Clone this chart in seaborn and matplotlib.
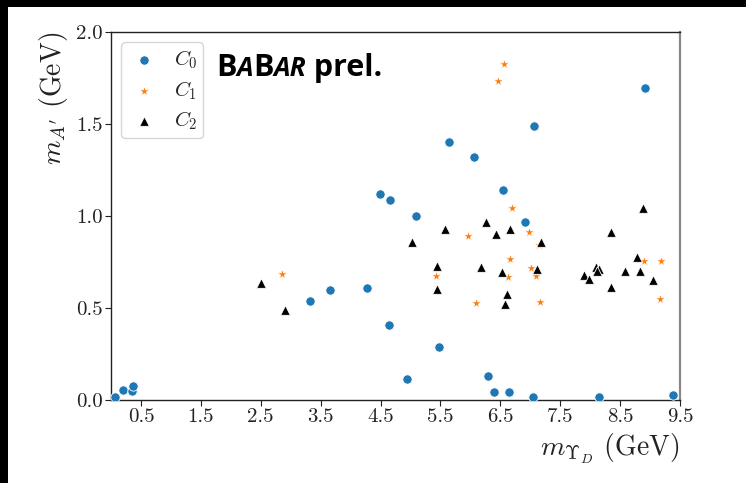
import numpy as np
import pandas as pd
import matplotlib
matplotlib.use("Agg")
import matplotlib.pyplot as plt
import seaborn as sns
from matplotlib.patches import Rectangle

# ---- data -------------------------------------------------------------
c0_x = [0.07, 0.20, 0.35, 0.37, 3.32, 3.66, 4.27, 4.49, 4.65, 4.64,
        8.91, 7.07, 5.65, 6.06, 6.55, 5.09, 6.91, 5.47, 4.95, 6.30,
        6.39, 6.64, 7.04, 8.15, 9.39]
c0_y = [0.015, 0.054, 0.047, 0.078, 0.54, 0.60, 0.61, 1.12, 1.087, 0.41,
        1.697, 1.49, 1.40, 1.32, 1.14, 1.00, 0.97, 0.286, 0.112, 0.132,
        0.043, 0.045, 0.015, 0.018, 0.029]

c1_x = [6.57, 6.46, 2.86, 6.69, 5.96, 6.98, 7.15, 6.66, 7.01, 5.43,
        6.63, 7.10, 6.09, 7.16, 8.90, 9.18, 9.16]
c1_y = [1.826, 1.734, 0.686, 1.045, 0.891, 0.911, 0.842, 0.766, 0.72, 0.676,
        0.67, 0.676, 0.527, 0.533, 0.755, 0.755, 0.547]

c2_x = [2.51, 2.90, 5.03, 5.58, 5.44, 5.45, 6.26, 6.43, 6.66, 6.18,
        6.53, 6.62, 6.58, 7.18, 7.11, 7.90, 7.98, 8.10, 8.15, 8.12,
        8.35, 8.35, 8.58, 8.78, 8.83, 8.88, 9.05]
c2_y = [0.638, 0.487, 0.857, 0.929, 0.727, 0.605, 0.966, 0.902, 0.931, 0.721,
        0.697, 0.578, 0.52, 0.86, 0.71, 0.679, 0.658, 0.721, 0.71, 0.70,
        0.913, 0.616, 0.701, 0.777, 0.703, 1.045, 0.65]

class_labels = ["$C_0$", "$C_1$", "$C_2$"]
x_ticks = [0.5, 1.5, 2.5, 3.5, 4.5, 5.5, 6.5, 7.5, 8.5, 9.5]
x_tick_labels = ["0.5", "1.5", "2.5", "3.5", "4.5", "5.5", "6.5", "7.5", "8.5", "9.5"]
y_ticks = [0.0, 0.5, 1.0, 1.5, 2.0]
y_tick_labels = ["0.0", "0.5", "1.0", "1.5", "2.0"]

df = pd.DataFrame({
    "x": c0_x + c1_x + c2_x,
    "y": c0_y + c1_y + c2_y,
    "cls": [class_labels[0]] * len(c0_x) + [class_labels[1]] * len(c1_x)
           + [class_labels[2]] * len(c2_x),
})

# ---- style ------------------------------------------------------------
sns.set_theme(style="ticks")
plt.rcParams["font.family"] = ["serif"]
plt.rcParams["font.serif"] = ["cmr10", "DejaVu Serif"]
plt.rcParams["mathtext.fontset"] = "cm"
plt.rcParams["axes.formatter.use_mathtext"] = True

fig = plt.figure(figsize=(7.46, 4.83), dpi=100)
fig.patch.set_facecolor("white")
ax = fig.add_axes([0.1488, 0.1718, 0.7627, 0.7619])

palette = {class_labels[0]: "#1f77b4", class_labels[1]: "#ff7f0e", class_labels[2]: "black"}
markers = {class_labels[0]: "o", class_labels[1]: "*", class_labels[2]: "^"}
sizes_map = {class_labels[0]: 45, class_labels[1]: 60, class_labels[2]: 48}

for lab in class_labels:
    sub = df[df["cls"] == lab]
    sns.scatterplot(data=sub, x="x", y="y", color=palette[lab], marker=markers[lab],
                    s=sizes_map[lab], edgecolor="white", linewidth=0.6,
                    label=lab, ax=ax, zorder=3)

ax.set_xlim(0, 9.5)
ax.set_ylim(0, 2.0)
ax.set_xticks(x_ticks)
ax.set_xticklabels(x_tick_labels)
ax.set_yticks(y_ticks)
ax.set_yticklabels(y_tick_labels)
ax.tick_params(axis="both", labelsize=15, length=4, width=0.8, direction="out",
               colors="#222222", labelcolor="#222222", pad=2)

ax.set_xlabel(r"$m_{\Upsilon_D}$ (GeV)", fontsize=20, loc="right", color="#222222")
ax.set_ylabel(r"$m_{A'}$ (GeV)", fontsize=20, loc="top", color="#222222")

for side in ["left", "bottom", "top"]:
    ax.spines[side].set_color("#222222")
    ax.spines[side].set_linewidth(1.0)
ax.spines["right"].set_color("#888888")
ax.spines["right"].set_linewidth(1.6)

leg = ax.legend(loc="upper left", fontsize=15, frameon=True, fancybox=True,
                framealpha=0.8, edgecolor="#cccccc", handletextpad=0.6,
                borderpad=0.3, labelspacing=0.38, handlelength=1.6,
                bbox_to_anchor=(0.0, 1.0), borderaxespad=0.5)

# ---- experiment tag, built piece by piece -----------------------------
tag_parts = [("B", 22, "normal"), ("A", 19, "italic"), ("B", 22, "normal"),
             ("AR", 19, "italic"), (" prel.", 22, "normal")]
fig.canvas.draw()
renderer = fig.canvas.get_renderer()
x_disp, y_disp = 216.0, fig.bbox.height - 76
for txt, size, style in tag_parts:
    t = fig.text(x_disp / fig.bbox.width, y_disp / fig.bbox.height, txt,
                 fontsize=size, fontweight="bold", fontstyle=style,
                 family=["Open Sans", "DejaVu Sans"], color="black",
                 va="baseline", ha="left")
    bb = t.get_window_extent(renderer)
    x_disp = bb.x1

# dark frame strips along the top and left edges
fig.patches.append(Rectangle((0, 1 - 7 / 483), 1, 7 / 483, transform=fig.transFigure,
                             facecolor="black", edgecolor="none", zorder=10))
fig.patches.append(Rectangle((0, 0), 8 / 746, 1, transform=fig.transFigure,
                             facecolor="black", edgecolor="none", zorder=10))

fig.savefig("out.png", dpi=100)
